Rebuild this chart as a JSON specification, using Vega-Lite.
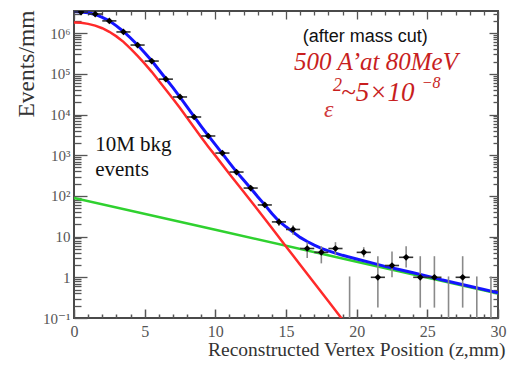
{
  "$schema": "https://vega.github.io/schema/vega-lite/v6.json",
  "width": 424,
  "height": 307,
  "autosize": {"type": "none"},
  "padding": {"left": 74, "top": 11, "right": 14, "bottom": 47},
  "background": "white",
  "config": {"view": {"stroke": "#4a4a4a", "strokeWidth": 2}, "font": "'Liberation Serif', 'DejaVu Serif', serif"},
  "datasets": {
    "curves": [
      {"component": "background", "z": 0, "value": 89.1},
      {"component": "background", "z": 10, "value": 14.7},
      {"component": "background", "z": 20, "value": 2.42},
      {"component": "background", "z": 30, "value": 0.398},
      {"component": "signal", "z": 0, "value": 1820000},
      {"component": "signal", "z": 0.5, "value": 1790000},
      {"component": "signal", "z": 1, "value": 1690000},
      {"component": "signal", "z": 1.5, "value": 1530000},
      {"component": "signal", "z": 2, "value": 1320000},
      {"component": "signal", "z": 2.5, "value": 1080000},
      {"component": "signal", "z": 3, "value": 832000},
      {"component": "signal", "z": 3.5, "value": 610000},
      {"component": "signal", "z": 4, "value": 417000},
      {"component": "signal", "z": 4.5, "value": 275000},
      {"component": "signal", "z": 5, "value": 178000},
      {"component": "signal", "z": 5.5, "value": 112000},
      {"component": "signal", "z": 6, "value": 67600},
      {"component": "signal", "z": 6.5, "value": 40700},
      {"component": "signal", "z": 7, "value": 24500},
      {"component": "signal", "z": 7.5, "value": 14500},
      {"component": "signal", "z": 8, "value": 8320},
      {"component": "signal", "z": 8.5, "value": 4790},
      {"component": "signal", "z": 9, "value": 2750},
      {"component": "signal", "z": 9.5, "value": 1620},
      {"component": "signal", "z": 10, "value": 977},
      {"component": "signal", "z": 11, "value": 347},
      {"component": "signal", "z": 12, "value": 126},
      {"component": "signal", "z": 13, "value": 45.7},
      {"component": "signal", "z": 14, "value": 16.2},
      {"component": "signal", "z": 15, "value": 5.75},
      {"component": "signal", "z": 16, "value": 2.04},
      {"component": "signal", "z": 17, "value": 0.724},
      {"component": "signal", "z": 18, "value": 0.257},
      {"component": "signal", "z": 19, "value": 0.0912},
      {"component": "total", "z": 0, "value": 3390000},
      {"component": "total", "z": 0.5, "value": 3310000},
      {"component": "total", "z": 1, "value": 3160000},
      {"component": "total", "z": 1.5, "value": 2880000},
      {"component": "total", "z": 2, "value": 2450000},
      {"component": "total", "z": 2.5, "value": 2000000},
      {"component": "total", "z": 3, "value": 1510000},
      {"component": "total", "z": 3.5, "value": 1100000},
      {"component": "total", "z": 4, "value": 759000},
      {"component": "total", "z": 4.5, "value": 513000},
      {"component": "total", "z": 5, "value": 331000},
      {"component": "total", "z": 5.5, "value": 209000},
      {"component": "total", "z": 6, "value": 126000},
      {"component": "total", "z": 6.5, "value": 75900},
      {"component": "total", "z": 7, "value": 45700},
      {"component": "total", "z": 7.5, "value": 26900},
      {"component": "total", "z": 8, "value": 15500},
      {"component": "total", "z": 8.5, "value": 8913},
      {"component": "total", "z": 9, "value": 5129},
      {"component": "total", "z": 9.5, "value": 3020},
      {"component": "total", "z": 10, "value": 1820},
      {"component": "total", "z": 10.5, "value": 1096},
      {"component": "total", "z": 11, "value": 646},
      {"component": "total", "z": 11.5, "value": 389},
      {"component": "total", "z": 12, "value": 245},
      {"component": "total", "z": 12.5, "value": 155},
      {"component": "total", "z": 13, "value": 95.5},
      {"component": "total", "z": 13.5, "value": 60.3},
      {"component": "total", "z": 14, "value": 37.2},
      {"component": "total", "z": 14.5, "value": 24.0},
      {"component": "total", "z": 15, "value": 17.4},
      {"component": "total", "z": 15.5, "value": 12.9},
      {"component": "total", "z": 16, "value": 9.55},
      {"component": "total", "z": 16.5, "value": 7.59},
      {"component": "total", "z": 17, "value": 6.17},
      {"component": "total", "z": 17.5, "value": 5.13},
      {"component": "total", "z": 18, "value": 4.47},
      {"component": "total", "z": 19, "value": 3.47},
      {"component": "total", "z": 20, "value": 2.82},
      {"component": "total", "z": 21, "value": 2.29},
      {"component": "total", "z": 22, "value": 1.86},
      {"component": "total", "z": 23, "value": 1.55},
      {"component": "total", "z": 24, "value": 1.29},
      {"component": "total", "z": 25, "value": 1.07},
      {"component": "total", "z": 26, "value": 0.871},
      {"component": "total", "z": 27, "value": 0.724},
      {"component": "total", "z": 28, "value": 0.603},
      {"component": "total", "z": 29, "value": 0.501},
      {"component": "total", "z": 30, "value": 0.417}
    ],
    "points": [
      {"z": 0.5, "bin_start": 0, "bin_end": 1, "events": 3300000},
      {"z": 1.5, "bin_start": 1, "bin_end": 2, "events": 2950000},
      {"z": 2.5, "bin_start": 2, "bin_end": 3, "events": 2000000},
      {"z": 3.5, "bin_start": 3, "bin_end": 4, "events": 1070000},
      {"z": 4.5, "bin_start": 4, "bin_end": 5, "events": 510000},
      {"z": 5.5, "bin_start": 5, "bin_end": 6, "events": 206000},
      {"z": 6.5, "bin_start": 6, "bin_end": 7, "events": 74000},
      {"z": 7.5, "bin_start": 7, "bin_end": 8, "events": 27000},
      {"z": 8.5, "bin_start": 8, "bin_end": 9, "events": 8700},
      {"z": 9.5, "bin_start": 9, "bin_end": 10, "events": 2970},
      {"z": 10.5, "bin_start": 10, "bin_end": 11, "events": 1130},
      {"z": 11.5, "bin_start": 11, "bin_end": 12, "events": 386},
      {"z": 12.5, "bin_start": 12, "bin_end": 13, "events": 156},
      {"z": 13.5, "bin_start": 13, "bin_end": 14, "events": 60},
      {"z": 14.5, "bin_start": 14, "bin_end": 15, "events": 23},
      {"z": 15.5, "bin_start": 15, "bin_end": 16, "events": 15},
      {"z": 16.5, "bin_start": 16, "bin_end": 17, "events": 5.1},
      {"z": 17.5, "bin_start": 17, "bin_end": 18, "events": 4.1},
      {"z": 18.5, "bin_start": 18, "bin_end": 19, "events": 5.1},
      {"z": 20.5, "bin_start": 20, "bin_end": 21, "events": 4.1},
      {"z": 21.5, "bin_start": 21, "bin_end": 22, "events": 1.0},
      {"z": 22.5, "bin_start": 22, "bin_end": 23, "events": 1.95},
      {"z": 23.5, "bin_start": 23, "bin_end": 24, "events": 3.1},
      {"z": 24.5, "bin_start": 24, "bin_end": 25, "events": 1.0},
      {"z": 25.5, "bin_start": 25, "bin_end": 26, "events": 1.0},
      {"z": 27.5, "bin_start": 27, "bin_end": 28, "events": 1.0}
    ],
    "errors": [
      {"z": 13.5, "lo": 52, "hi": 68},
      {"z": 14.5, "lo": 18.2, "hi": 27.8},
      {"z": 15.5, "lo": 11.1, "hi": 18.9},
      {"z": 16.5, "lo": 3.0, "hi": 7.3},
      {"z": 17.5, "lo": 2.2, "hi": 5.8},
      {"z": 18.5, "lo": 3.6, "hi": 7.3},
      {"z": 19.5, "lo": 0.1, "hi": 1.05},
      {"z": 20.5, "lo": 3.1, "hi": 5.5},
      {"z": 21.5, "lo": 0.18, "hi": 3.3},
      {"z": 22.5, "lo": 1.0, "hi": 4.3},
      {"z": 23.5, "lo": 1.74, "hi": 5.8},
      {"z": 24.5, "lo": 0.18, "hi": 3.3},
      {"z": 25.5, "lo": 0.18, "hi": 3.3},
      {"z": 26.5, "lo": 0.1, "hi": 1.05},
      {"z": 27.5, "lo": 0.18, "hi": 3.3},
      {"z": 28.5, "lo": 0.1, "hi": 1.05},
      {"z": 29.5, "lo": 0.1, "hi": 1.05}
    ],
    "notes": [{"note": "annotation"}]
  },
  "layer": [
    {
      "data": {"name": "curves"},
      "transform": [{"filter": "datum.component == 'background'"}],
      "mark": {"type": "line", "color": "#2fd12f", "strokeWidth": 2.5, "clip": true},
      "encoding": {
        "x": {"field": "z", "type": "quantitative", "scale": {"domain": [0, 30], "nice": false, "zero": false},
          "axis": {"orient": "bottom", "values": [0,1,2,3,4,5,6,7,8,9,10,11,12,13,14,15,16,17,18,19,20,21,22,23,24,25,26,27,28,29,30],
            "labelExpr": "datum.value % 5 == 0 ? datum.label : ''",
            "tickSize": {"condition": {"test": "datum.value % 5 == 0", "value": -9}, "value": -4},
            "tickColor": "#555", "tickWidth": 1.5, "domain": false, "grid": false,
            "labelFont": "'Liberation Serif', 'DejaVu Serif', serif", "labelFontSize": 16, "labelColor": "#555", "labelPadding": 14, "labelFlush": false, "labelOverlap": false,
            "title": "Reconstructed Vertex Position (z,mm)", "titleFont": "'Liberation Serif', 'DejaVu Serif', serif", "titleFontSize": 19.5, "titleFontWeight": "normal", "titleColor": "#333",
            "titleAnchor": "end", "titleAlign": "right", "titleX": 431, "titleY": 37, "titleBaseline": "alphabetic"}},
        "y": {"field": "value", "type": "quantitative", "scale": {"type": "log", "domain": [0.1, 3500000], "nice": false},
          "axis": {"orient": "left",
            "values": [0.1,0.2,0.3,0.4,0.5,0.6,0.7,0.8,0.9,1,2,3,4,5,6,7,8,9,10,20,30,40,50,60,70,80,90,100,200,300,400,500,600,700,800,900,1000,2000,3000,4000,5000,6000,7000,8000,9000,10000,20000,30000,40000,50000,60000,70000,80000,90000,100000,200000,300000,400000,500000,600000,700000,800000,900000,1000000,2000000,3000000],
            "labelExpr": "datum.value == 0.1 ? '10⁻¹' : datum.value == 1 ? '1' : datum.value == 10 ? '10' : datum.value == 100 ? '10²' : datum.value == 1000 ? '10³' : datum.value == 10000 ? '10⁴' : datum.value == 100000 ? '10⁵' : datum.value == 1000000 ? '10⁶' : ''",
            "tickSize": {"condition": {"test": "indexof([0.1,1,10,100,1000,10000,100000,1000000], datum.value) >= 0", "value": -13}, "value": -7},
            "tickColor": "#555", "tickWidth": 1.3, "domain": false, "grid": false,
            "labelFont": "'Liberation Serif', 'DejaVu Serif', serif", "labelFontSize": 15, "labelColor": "#555", "labelPadding": 17, "labelOverlap": false, "labelFlush": false,
            "title": "Events/mm", "titleFont": "'Liberation Serif', 'DejaVu Serif', serif", "titleFontSize": 23.5, "titleFontWeight": "normal", "titleColor": "#333",
            "titleAngle": -90, "titleAlign": "right", "titleBaseline": "alphabetic", "titleX": -41, "titleY": -1, "titleAnchor": "end"}}
      }
    },
    {
      "data": {"name": "curves"},
      "transform": [{"filter": "datum.component == 'signal'"}],
      "mark": {"type": "line", "color": "#ff2a2a", "strokeWidth": 2.5, "clip": true},
      "encoding": {
        "x": {"field": "z", "type": "quantitative", "scale": {"domain": [0, 30], "nice": false, "zero": false},
          "axis": {"orient": "top", "values": [0,1,2,3,4,5,6,7,8,9,10,11,12,13,14,15,16,17,18,19,20,21,22,23,24,25,26,27,28,29,30],
            "labels": false, "title": null, "domain": false, "grid": false,
            "tickSize": {"condition": {"test": "datum.value % 5 == 0", "value": -8}, "value": -4},
            "tickColor": "#555", "tickWidth": 1.3}},
        "y": {"field": "value", "type": "quantitative", "scale": {"type": "log", "domain": [0.1, 3500000], "nice": false},
          "axis": {"orient": "right",
            "values": [0.1,0.2,0.3,0.4,0.5,0.6,0.7,0.8,0.9,1,2,3,4,5,6,7,8,9,10,20,30,40,50,60,70,80,90,100,200,300,400,500,600,700,800,900,1000,2000,3000,4000,5000,6000,7000,8000,9000,10000,20000,30000,40000,50000,60000,70000,80000,90000,100000,200000,300000,400000,500000,600000,700000,800000,900000,1000000,2000000,3000000],
            "labels": false, "title": null, "domain": false, "grid": false,
            "tickSize": {"condition": {"test": "indexof([0.1,1,10,100,1000,10000,100000,1000000], datum.value) >= 0", "value": -9}, "value": -5},
            "tickColor": "#555", "tickWidth": 1.3}}
      }
    },
    {
      "data": {"name": "curves"},
      "transform": [{"filter": "datum.component == 'total'"}],
      "mark": {"type": "line", "color": "#1414ff", "strokeWidth": 3, "clip": true},
      "encoding": {
        "x": {"field": "z", "type": "quantitative", "scale": {"domain": [0, 30], "nice": false, "zero": false}, "axis": null},
        "y": {"field": "value", "type": "quantitative", "scale": {"type": "log", "domain": [0.1, 3500000], "nice": false}, "axis": null}
      }
    },
    {
      "data": {"name": "errors"},
      "mark": {"type": "rule", "color": "#8a8a8a", "strokeWidth": 1.6, "clip": true},
      "encoding": {
        "x": {"field": "z", "type": "quantitative", "scale": {"domain": [0, 30], "nice": false, "zero": false}, "axis": null},
        "y": {"field": "lo", "type": "quantitative", "scale": {"type": "log", "domain": [0.1, 3500000], "nice": false}, "axis": null},
        "y2": {"field": "hi"}
      }
    },
    {
      "data": {"name": "points"},
      "mark": {"type": "rule", "color": "#333", "strokeWidth": 1.6, "clip": true},
      "encoding": {
        "x": {"field": "bin_start", "type": "quantitative", "scale": {"domain": [0, 30], "nice": false, "zero": false}, "axis": null},
        "x2": {"field": "bin_end"},
        "y": {"field": "events", "type": "quantitative", "scale": {"type": "log", "domain": [0.1, 3500000], "nice": false}, "axis": null}
      }
    },
    {
      "data": {"name": "points"},
      "mark": {"type": "point", "shape": "diamond", "filled": true, "color": "#000", "size": 45, "opacity": 1, "clip": true},
      "encoding": {
        "x": {"field": "z", "type": "quantitative", "scale": {"domain": [0, 30], "nice": false, "zero": false}, "axis": null},
        "y": {"field": "events", "type": "quantitative", "scale": {"type": "log", "domain": [0.1, 3500000], "nice": false}, "axis": null}
      }
    },
    {
      "data": {"name": "notes"},
      "mark": {"type": "text", "font": "'Liberation Sans', Arial, sans-serif", "fontSize": 18, "color": "#111", "align": "center", "baseline": "middle"},
      "encoding": {
        "x": {"datum": 20.6, "type": "quantitative", "scale": {"domain": [0, 30], "nice": false, "zero": false}, "axis": null},
        "y": {"datum": 800000, "type": "quantitative", "scale": {"type": "log", "domain": [0.1, 3500000], "nice": false}, "axis": null},
        "text": {"value": "(after mass cut)"}
      }
    },
    {
      "data": {"name": "notes"},
      "mark": {"type": "text", "font": "'Liberation Serif', 'DejaVu Serif', serif", "fontStyle": "italic", "fontSize": 25, "color": "#c81e1e", "align": "center", "baseline": "middle"},
      "encoding": {
        "x": {"datum": 21.37, "type": "quantitative", "scale": {"domain": [0, 30], "nice": false, "zero": false}, "axis": null},
        "y": {"datum": 193000, "type": "quantitative", "scale": {"type": "log", "domain": [0.1, 3500000], "nice": false}, "axis": null},
        "text": {"value": "500 A’at 80MeV"}
      }
    },
    {
      "data": {"name": "notes"},
      "mark": {"type": "text", "font": "'Liberation Serif', 'DejaVu Serif', serif", "fontStyle": "italic", "fontSize": 24, "color": "#d0393d", "align": "left", "baseline": "alphabetic"},
      "encoding": {
        "x": {"datum": 17.69, "type": "quantitative", "scale": {"domain": [0, 30], "nice": false, "zero": false}, "axis": null},
        "y": {"datum": 8690, "type": "quantitative", "scale": {"type": "log", "domain": [0.1, 3500000], "nice": false}, "axis": null},
        "text": {"value": "ε"}
      }
    },
    {
      "data": {"name": "notes"},
      "mark": {"type": "text", "font": "'Liberation Serif', 'DejaVu Serif', serif", "fontStyle": "italic", "fontSize": 18, "color": "#c81e1e", "align": "left", "baseline": "alphabetic"},
      "encoding": {
        "x": {"datum": 18.33, "type": "quantitative", "scale": {"domain": [0, 30], "nice": false, "zero": false}, "axis": null},
        "y": {"datum": 37800, "type": "quantitative", "scale": {"type": "log", "domain": [0.1, 3500000], "nice": false}, "axis": null},
        "text": {"value": "2"}
      }
    },
    {
      "data": {"name": "notes"},
      "mark": {"type": "text", "font": "'Liberation Serif', 'DejaVu Serif', serif", "fontStyle": "italic", "fontSize": 27, "color": "#c81e1e", "align": "left", "baseline": "alphabetic"},
      "encoding": {
        "x": {"datum": 18.9, "type": "quantitative", "scale": {"domain": [0, 30], "nice": false, "zero": false}, "axis": null},
        "y": {"datum": 21400, "type": "quantitative", "scale": {"type": "log", "domain": [0.1, 3500000], "nice": false}, "axis": null},
        "text": {"value": "~5×10"}
      }
    },
    {
      "data": {"name": "notes"},
      "mark": {"type": "text", "font": "'Liberation Serif', 'DejaVu Serif', serif", "fontStyle": "italic", "fontSize": 16, "color": "#c81e1e", "align": "left", "baseline": "alphabetic"},
      "encoding": {
        "x": {"datum": 24.6, "type": "quantitative", "scale": {"domain": [0, 30], "nice": false, "zero": false}, "axis": null},
        "y": {"datum": 44900, "type": "quantitative", "scale": {"type": "log", "domain": [0.1, 3500000], "nice": false}, "axis": null},
        "text": {"value": "−8"}
      }
    },
    {
      "data": {"name": "notes"},
      "mark": {"type": "text", "font": "'Liberation Serif', 'DejaVu Serif', serif", "fontSize": 21, "color": "#111", "align": "left", "baseline": "middle"},
      "encoding": {
        "x": {"datum": 1.5, "type": "quantitative", "scale": {"domain": [0, 30], "nice": false, "zero": false}, "axis": null},
        "y": {"datum": 1780, "type": "quantitative", "scale": {"type": "log", "domain": [0.1, 3500000], "nice": false}, "axis": null},
        "text": {"value": "10M bkg"}
      }
    },
    {
      "data": {"name": "notes"},
      "mark": {"type": "text", "font": "'Liberation Serif', 'DejaVu Serif', serif", "fontSize": 21, "color": "#111", "align": "left", "baseline": "middle"},
      "encoding": {
        "x": {"datum": 1.5, "type": "quantitative", "scale": {"domain": [0, 30], "nice": false, "zero": false}, "axis": null},
        "y": {"datum": 436, "type": "quantitative", "scale": {"type": "log", "domain": [0.1, 3500000], "nice": false}, "axis": null},
        "text": {"value": "events"}
      }
    }
  ],
  "resolve": {"axis": {"x": "independent", "y": "independent"}}
}
